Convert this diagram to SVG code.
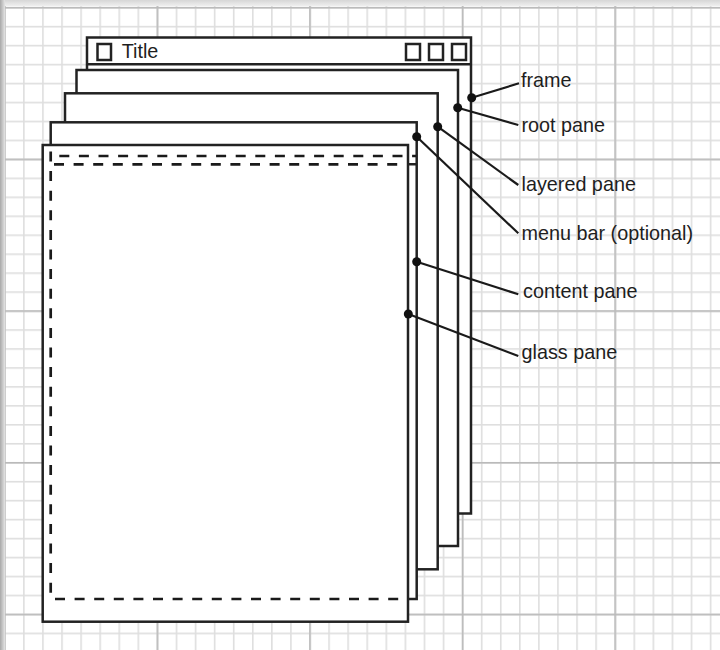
<svg xmlns="http://www.w3.org/2000/svg" width="720" height="650" viewBox="0 0 720 650">
  <style>
    .pane { fill: #ffffff; stroke: #222222; stroke-width: 2.5; }
    .edge { fill: none; stroke: #222222; stroke-width: 2.5; }
    .dash { fill: none; stroke: #1a1a1a; stroke-width: 2.7; stroke-dasharray: 10 9.6; }
    .leader { fill: none; stroke: #1a1a1a; stroke-width: 2.2; }
    .dot { fill: #111111; }
    .btn { fill: none; stroke: #222222; stroke-width: 2.5; }
    .label { font-family: "Liberation Sans", Arial, Helvetica, sans-serif; font-size: 19.8px; fill: #1e1e1e; }
  </style>
  <defs>
    <pattern id="minor" patternUnits="userSpaceOnUse" x="4" y="6.9" width="19.075" height="18.96">
      <rect x="0" y="0" width="1.6" height="18.96" fill="#dedede"/>
      <rect x="0" y="0" width="19.075" height="1.6" fill="#dedede"/>
    </pattern>
    <pattern id="major" patternUnits="userSpaceOnUse" x="4" y="6.9" width="152.6" height="151.7">
      <rect x="0" y="0" width="1.6" height="151.7" fill="#bababa"/>
      <rect x="0" y="0" width="152.6" height="1.6" fill="#bababa"/>
    </pattern>
    <linearGradient id="topShade" x1="0" y1="0" x2="0" y2="1">
      <stop offset="0" stop-color="#d6d6d6"/>
      <stop offset="1" stop-color="#efefef"/>
    </linearGradient>
    <linearGradient id="leftShade" x1="0" y1="0" x2="1" y2="0">
      <stop offset="0" stop-color="#a8a8a8"/>
      <stop offset="1" stop-color="#e4e4e4"/>
    </linearGradient>
  </defs>

  <!-- background grid -->
  <g id="background">
    <rect x="0" y="0" width="720" height="650" fill="#ffffff"/>
    <rect x="0" y="0" width="720" height="650" fill="url(#minor)"/>
    <rect x="0" y="0" width="720" height="650" fill="url(#major)"/>
    <rect x="0" y="0" width="720" height="6" fill="url(#topShade)"/>
    <rect x="0" y="0" width="5" height="650" fill="url(#leftShade)"/>
  </g>

  <!-- frame -->
  <g id="frame">
    <rect class="pane" x="87" y="37.5" width="384" height="476"/>
    <line class="edge" x1="87" y1="64.3" x2="471" y2="64.3"/>
    <rect class="btn" x="97.5" y="44" width="13.5" height="16"/>
    <text class="label" x="121.7" y="57.5" font-size="19.2">Title</text>
    <rect class="btn" x="406" y="44" width="14" height="16"/>
    <rect class="btn" x="429" y="44" width="14" height="16"/>
    <rect class="btn" x="452" y="44" width="14" height="16"/>
  </g>

  <!-- root pane -->
  <g id="root-pane">
    <rect class="pane" x="76.5" y="70" width="381.5" height="476"/>
  </g>

  <!-- layered pane -->
  <g id="layered-pane">
    <rect class="pane" x="65" y="93.3" width="372.7" height="476"/>
  </g>

  <!-- menu bar / content pane layer -->
  <g id="content-layer">
    <rect class="pane" x="50.7" y="122.3" width="366" height="476.7"/>
    <line class="edge" x1="50.7" y1="164.3" x2="416.7" y2="164.3"/>
  </g>

  <!-- glass pane -->
  <g id="glass-pane">
    <rect class="pane" x="42.7" y="145" width="365.3" height="476.7"/>
  </g>

  <!-- hidden edges seen through the glass pane -->
  <g id="hidden-edges">
    <line class="dash" x1="59.3" y1="156" x2="416" y2="156"/>
    <line class="dash" x1="54" y1="164.3" x2="398.5" y2="164.3"/>
    <line class="dash" x1="55" y1="599" x2="398.5" y2="599"/>
    <line class="dash" x1="50.7" y1="592.7" x2="50.7" y2="146.5"/>
  </g>

  <!-- connectors -->
  <g id="connectors">
    <line class="leader" x1="471.7" y1="97.7" x2="519" y2="83.3"/>
    <circle class="dot" cx="471.7" cy="97.7" r="4.5"/>
    <line class="leader" x1="457.7" y1="107.7" x2="518.3" y2="125"/>
    <circle class="dot" cx="457.7" cy="107.7" r="4.5"/>
    <line class="leader" x1="437.7" y1="126.7" x2="518.3" y2="185"/>
    <circle class="dot" cx="437.7" cy="126.7" r="4.5"/>
    <line class="leader" x1="416.7" y1="136.7" x2="518.3" y2="233.3"/>
    <circle class="dot" cx="416.7" cy="136.7" r="4.5"/>
    <line class="leader" x1="416.7" y1="261.7" x2="518.3" y2="294.3"/>
    <circle class="dot" cx="416.7" cy="261.7" r="4.5"/>
    <line class="leader" x1="408.3" y1="314" x2="518.3" y2="356"/>
    <circle class="dot" cx="408.3" cy="314" r="4.5"/>
  </g>

  <!-- labels -->
  <g id="labels">
    <text class="label" x="521" y="87.3">frame</text>
    <text class="label" x="521.5" y="131.7">root pane</text>
    <text class="label" x="521.5" y="190.7">layered pane</text>
    <text class="label" x="521.5" y="240">menu bar (optional)</text>
    <text class="label" x="523" y="297.5">content pane</text>
    <text class="label" x="521.5" y="359.3">glass pane</text>
  </g>
</svg>
